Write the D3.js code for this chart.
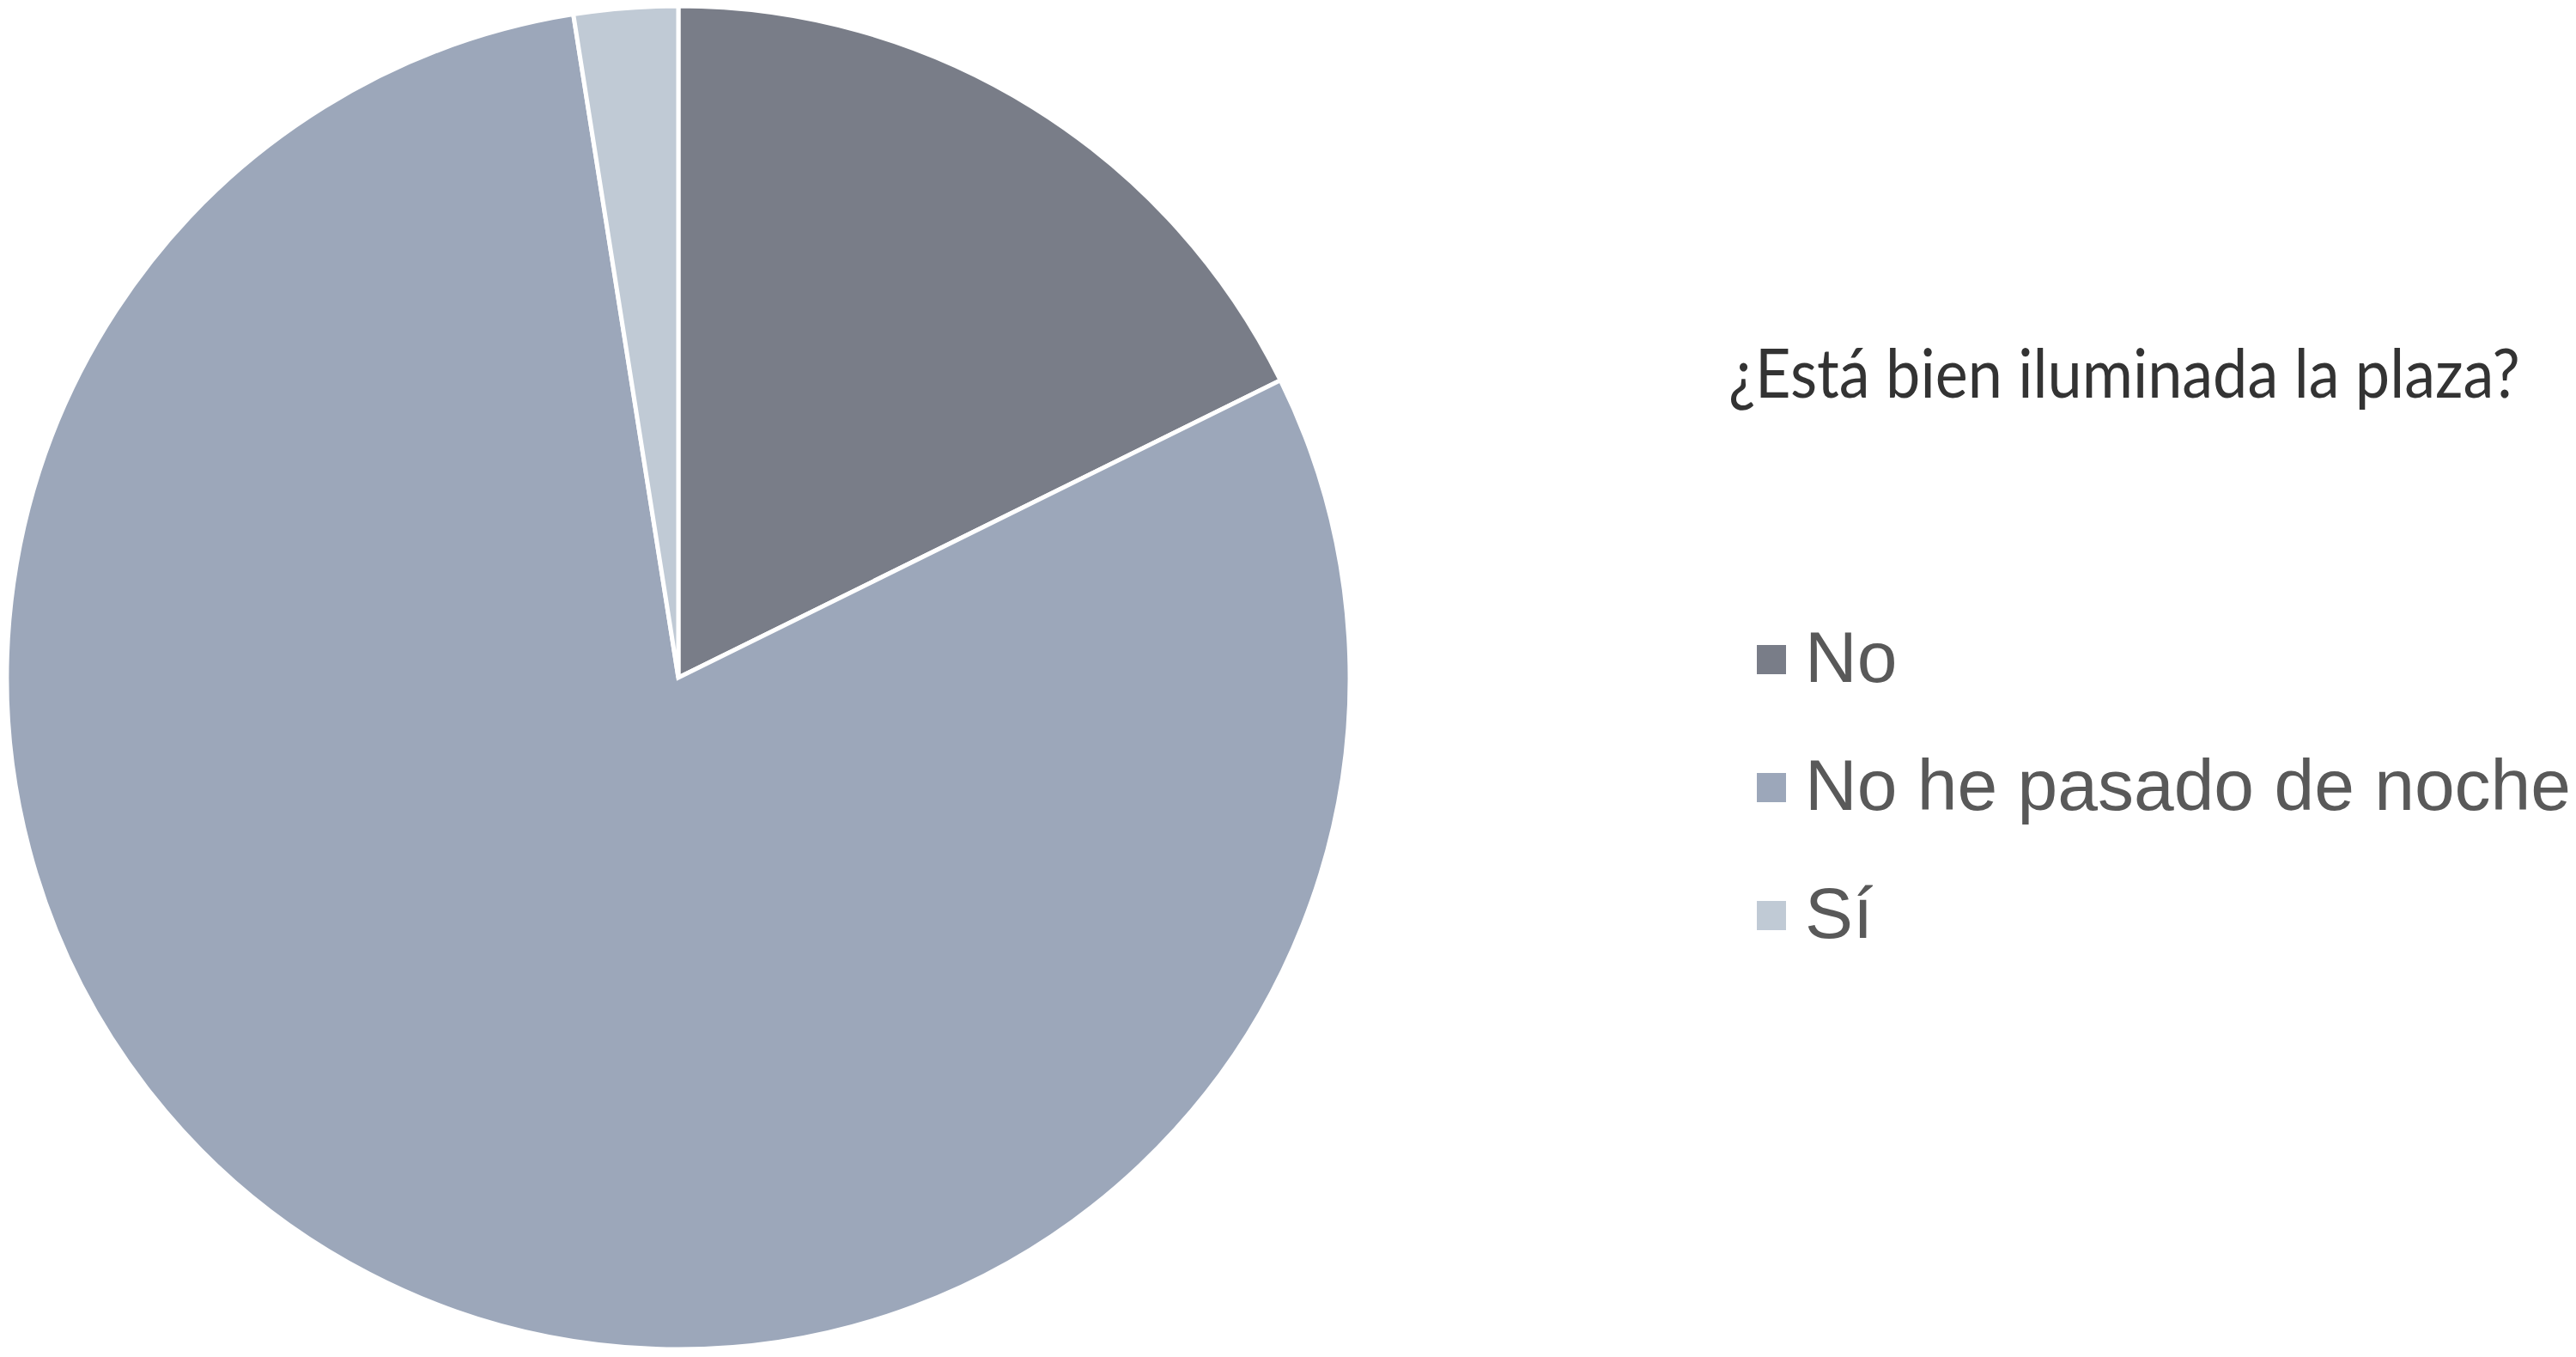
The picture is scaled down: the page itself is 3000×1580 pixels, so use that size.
<!DOCTYPE html>
<html>
<head>
<meta charset="utf-8">
<script src="https://cdn.jsdelivr.net/npm/d3@7"></script>
<style>
html,body{margin:0;padding:0;background:#fff;}
svg{display:block;}
</style>
</head>
<body>
<svg id="chart" width="3000" height="1580"></svg>
<script>
const title = "¿Está bien iluminada la plaza?";
const categories = ["No", "No he pasado de noche", "Sí"];
const values = [17.7, 79.8, 2.5];
const colors = ["#797d88", "#9ca7ba", "#c0cad5"];

const svg = d3.select("#chart");
const cx = 790, cy = 789, R = 782;

const data = categories.map((c, i) => ({cat: c, value: values[i], color: colors[i]}));
const pie = d3.pie().value(d => d.value).sort(null);
const arc = d3.arc().innerRadius(0).outerRadius(R);

const g = svg.append("g").attr("transform", `translate(${cx},${cy})`);
g.selectAll("path").data(pie(data)).join("path")
  .attr("d", arc)
  .attr("fill", d => d.data.color)
  .attr("stroke", "#fff")
  .attr("stroke-width", 5)
  .attr("stroke-linejoin", "miter");

// Title (fit to the reference width by horizontal scaling)
const tx = 2013, ty = 463, targetW = 922;
const tg = svg.append("g");
const tt = tg.append("text")
  .attr("x", 0).attr("y", 0)
  .attr("font-family", "Lato, 'Open Sans', sans-serif")
  .attr("font-size", 80)
  .attr("fill", "#333333")
  .text(title);
const natW = tt.node().getComputedTextLength();
const sx = targetW / natW;
tg.attr("transform", `translate(${tx},${ty}) scale(${sx},1)`);

// Legend
const legendY = d3.scalePoint().domain(categories).range([794, 1092]);
const lg = svg.append("g");
const items = lg.selectAll("g").data(data).join("g")
  .attr("transform", d => `translate(0,${legendY(d.cat)})`);
items.append("rect")
  .attr("x", 2046).attr("y", -43)
  .attr("width", 34).attr("height", 34)
  .attr("fill", d => d.color);
items.append("text")
  .attr("x", 2102).attr("y", 0)
  .attr("font-family", "'Liberation Sans', Arial, sans-serif")
  .attr("font-size", 84)
  .attr("fill", "#595959")
  .text(d => d.cat);
</script>
</body>
</html>
